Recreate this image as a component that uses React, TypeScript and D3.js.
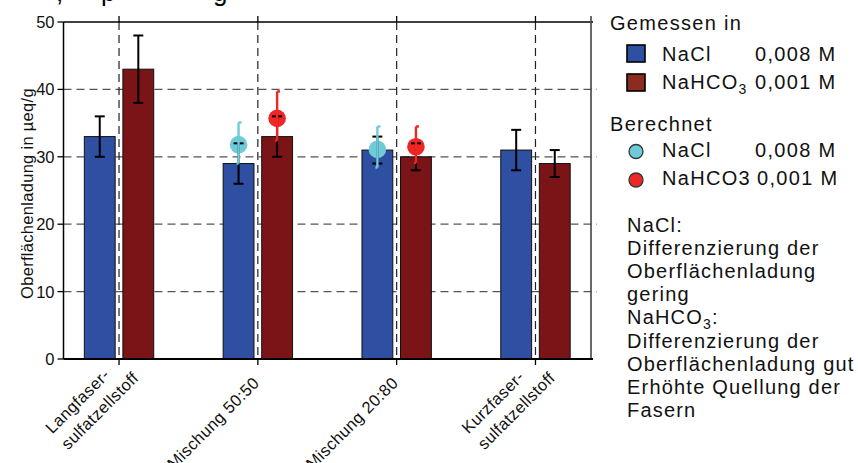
import React, { useMemo } from "react";
import * as d3 from "d3";

// ---------- data ----------
const categories = ["Langfaser-\nsulfatzellstoff", "Mischung 50:50", "Mischung 20:80", "Kurzfaser-\nsulfatzellstoff"];
const series = ["NaCl", "NaHCO3"];
const naclMeasured = [33, 29, 31, 31];
const naclErr = [3, 3, 2, 3];
const nahco3Measured = [43, 33, 30, 29];
const nahco3Err = [5, 3, 2, 2];
// calculated values (only for the mixtures)
const naclCalc = [null, 31.8, 31.1, null];
const naclCalcLow = [null, 29.0, 28.4, null];
const naclCalcHigh = [null, 35.1, 34.5, null];
const nahco3Calc = [null, 35.7, 31.5, null];
const nahco3CalcLow = [null, 32.4, 29.1, null];
const nahco3CalcHigh = [null, 39.7, 34.5, null];
const yTicks = [0, 10, 20, 30, 40, 50];
const yTitle = "Oberflächenladung in µeq/g";
const noteLines = [
  "NaCl:",
  "Differenzierung der",
  "Oberflächenladung",
  "gering",
  "NaHCO3:",
  "Differenzierung der",
  "Oberflächenladung gut",
  "Erhöhte Quellung der",
  "Fasern",
];

const W = 858;
const H = 463;
const FONT = "'Liberation Sans', Arial, Helvetica, sans-serif";
const C_BLUE = "#2f4fa2";
const C_DRED = "#7a1416";
const C_LEG_RED = "#8c2c20";
const C_CYAN = "#6ecbd7";
const C_RED = "#ef2626";

const margin = { left: 63.5, top: 22, right: 858 - 591, bottom: 463 - 359 };

function measure(text: string, size: number, ls: number) {
  const c = document.createElement("canvas").getContext("2d");
  if (!c) return text.length * size * 0.5;
  c.font = `${size}px 'Liberation Sans', Arial`;
  return c.measureText(text).width + ls * text.length;
}

function Chem({ text, sub }: { text: string; sub: boolean }) {
  if (sub && text.startsWith("NaHCO3")) {
    return (
      <>
        NaHCO
        <tspan fontSize="14" dy="5">3</tspan>
        <tspan dy="-5">{text.slice(6)}</tspan>
      </>
    );
  }
  return <>{text}</>;
}

export default function App() {
  const innerW = W - margin.left - margin.right;
  const x = d3.scalePoint<string>().domain(categories).range([margin.left, margin.left + innerW]).padding(0.4);
  const step = x.step();
  const xs = d3.scaleBand<string>().domain(series).range([-step * 0.25, step * 0.25]).paddingInner(0.2);
  const y = d3.scaleLinear().domain([0, 50]).range([H - margin.bottom, margin.top]);
  const x0 = margin.left;
  const x1 = W - margin.right;
  const y0 = y(0);
  const yTop = y(50);

  const labelFs = 16.5;
  const labelLs = 0.4;
  const widths = useMemo(
    () => categories.map((c) => c.split("\n").map((l) => measure(l, labelFs, labelLs))),
    []
  );

  const barData = [
    { key: "NaCl", vals: naclMeasured, err: naclErr, color: C_BLUE },
    { key: "NaHCO3", vals: nahco3Measured, err: nahco3Err, color: C_DRED },
  ];
  const calcData = [
    { key: "NaCl", vals: naclCalc, lo: naclCalcLow, hi: naclCalcHigh, color: C_CYAN },
    { key: "NaHCO3", vals: nahco3Calc, lo: nahco3CalcLow, hi: nahco3CalcHigh, color: C_RED },
  ];

  return (
    <svg width={W} height={H} style={{ position: "absolute", left: 0, top: 0, background: "#fff" }} fontFamily={FONT}>
      {/* cut-off title fragments at top edge */}
      <text y={1} fontSize={26} fill="#000">
        <tspan x={56}>,</tspan>
        <tspan x={101}>p</tspan>
        <tspan x={213}>g</tspan>
      </text>

      {/* horizontal grid */}
      {yTicks.filter((t) => t > 0 && t < 50).map((t) => (
        <line key={"hg" + t} x1={x0} x2={x1 + 6} y1={y(t)} y2={y(t)} stroke="#555" strokeWidth={1.3} strokeDasharray="8,5" />
      ))}
      {/* vertical grid */}
      {categories.map((c) => (
        <line key={"vg" + c} x1={x(c)} x2={x(c)} y1={yTop} y2={y0} stroke="#222" strokeWidth={1.2} strokeDasharray="8,5" />
      ))}

      {/* bars */}
      {barData.map((s) =>
        categories.map((c, i) => (
          <rect
            key={s.key + c}
            x={(x(c) as number) + (xs(s.key) as number)}
            width={xs.bandwidth()}
            y={y(s.vals[i])}
            height={y0 - y(s.vals[i])}
            fill={s.color}
            stroke="#111"
            strokeWidth={1}
          />
        ))
      )}

      {/* calculated markers */}
      {calcData.map((s) =>
        categories.map((c, i) =>
          s.vals[i] == null ? null : (
            <circle
              key={"m" + s.key + c}
              cx={(x(c) as number) + (xs(s.key) as number) + xs.bandwidth() / 2}
              cy={y(s.vals[i] as number)}
              r={8.8}
              fill={s.color}
            />
          )
        )
      )}

      {/* measured error bars */}
      {barData.map((s) =>
        categories.map((c, i) => {
          const cx = (x(c) as number) + (xs(s.key) as number) + xs.bandwidth() / 2;
          const ya = y(s.vals[i] + s.err[i]);
          const yb = y(s.vals[i] - s.err[i]);
          return (
            <g key={"e" + s.key + c} stroke="#000" strokeWidth={2}>
              <line x1={cx} x2={cx} y1={ya} y2={yb} />
              <line x1={cx - 5} x2={cx + 5} y1={ya} y2={ya} />
              <line x1={cx - 5} x2={cx + 5} y1={yb} y2={yb} />
            </g>
          );
        })
      )}

      {/* calculated error bars */}
      {calcData.map((s) =>
        categories.map((c, i) => {
          if (s.vals[i] == null) return null;
          const cx = (x(c) as number) + (xs(s.key) as number) + xs.bandwidth() / 2;
          const ya = y(s.hi[i] as number);
          const yb = y(s.lo[i] as number);
          return (
            <g key={"ce" + s.key + c} stroke={s.color} strokeWidth={2.4}>
              <line x1={cx} x2={cx} y1={ya} y2={yb} />
              <line x1={cx} x2={cx + 3} y1={ya} y2={ya} />
              <line x1={cx - 2} x2={cx} y1={yb} y2={yb} />
            </g>
          );
        })
      )}

      {/* frame */}
      <line x1={x0} x2={x1 + 2} y1={yTop} y2={yTop} stroke="#000" strokeWidth={1.5} />
      <line x1={x1} x2={x1} y1={yTop - 6} y2={y0} stroke="#444" strokeWidth={1.6} />
      <line x1={x0} x2={x0} y1={yTop} y2={y0} stroke="#000" strokeWidth={1.5} />
      <line x1={x0} x2={x1 + 2} y1={y0} y2={y0} stroke="#000" strokeWidth={2.2} />

      {/* y ticks & labels */}
      {yTicks.map((t) => (
        <g key={"yt" + t}>
          <line x1={x0 - 6} x2={x0} y1={y(t)} y2={y(t)} stroke="#000" strokeWidth={1.3} />
          <text x={x0 - 9} y={y(t)} dy="0.36em" textAnchor="end" fontSize={16.5} fill="#111">
            {t}
          </text>
        </g>
      ))}

      {/* x ticks (top & bottom) */}
      {categories.map((c) => (
        <g key={"xt" + c} stroke="#000" strokeWidth={1.3}>
          <line x1={x(c)} x2={x(c)} y1={yTop - 6} y2={yTop} />
          <line x1={x(c)} x2={x(c)} y1={y0} y2={y0 + 6} />
        </g>
      ))}

      {/* x labels */}
      {categories.map((c, i) => {
        const lines = c.split("\n");
        const cx = x(c) as number;
        if (lines.length === 1) {
          return (
            <text
              key={"xl" + c}
              transform={`translate(${cx + 2.5},${384}) rotate(-45)`}
              textAnchor="end"
              fontSize={labelFs}
              letterSpacing={labelLs}
              fill="#111"
            >
              {c}
            </text>
          );
        }
        const w2 = widths[i][1];
        return (
          <g key={"xl" + c} transform={`translate(${cx + 20.5},${379}) rotate(-45)`} fontSize={labelFs} letterSpacing={labelLs} fill="#111">
            <text x={-w2} y={-22.5}>{lines[0]}</text>
            <text x={-w2} y={0}>{lines[1]}</text>
          </g>
        );
      })}

      {/* y title */}
      <text
        transform={`translate(33,${(y0 + yTop) / 2 + 3}) rotate(-90)`}
        textAnchor="middle"
        fontSize={16.5}
        letterSpacing={0.3}
        fill="#111"
      >
        {yTitle}
      </text>

      {/* legend */}
      <g fontSize={20} letterSpacing={1.3} fill="#111">
        <text x={610} y={30}>Gemessen in</text>
        <rect x={627} y={45} width={18} height={17} fill={C_BLUE} stroke="#000" strokeWidth={1.6} />
        <text x={662} y={61}>NaCl</text>
        <text x={755} y={61}>0,008 M</text>
        <rect x={627} y={74} width={18} height={17} fill={C_LEG_RED} stroke="#000" strokeWidth={1.6} />
        <text x={662} y={89}><Chem text="NaHCO3" sub={true} /></text>
        <text x={755} y={89}>0,001 M</text>

        <text x={610} y={131}>Berechnet</text>
        <circle cx={636} cy={151.5} r={7} fill={C_CYAN} stroke="#333" strokeWidth={1.3} />
        <text x={662} y={157}>NaCl</text>
        <text x={755} y={157}>0,008 M</text>
        <circle cx={636} cy={180} r={7} fill={C_RED} stroke="#333" strokeWidth={1.3} />
        <text x={662} y={185}>NaHCO3</text>
        <text x={757} y={185}>0,001 M</text>
      </g>

      {/* note text */}
      <g fontSize={20} letterSpacing={1.2} fill="#111">
        {noteLines.map((l, i) => (
          <text key={"n" + i} x={627} y={231.5 + i * 23.2}>
            <Chem text={l} sub={true} />
          </text>
        ))}
      </g>
    </svg>
  );
}
